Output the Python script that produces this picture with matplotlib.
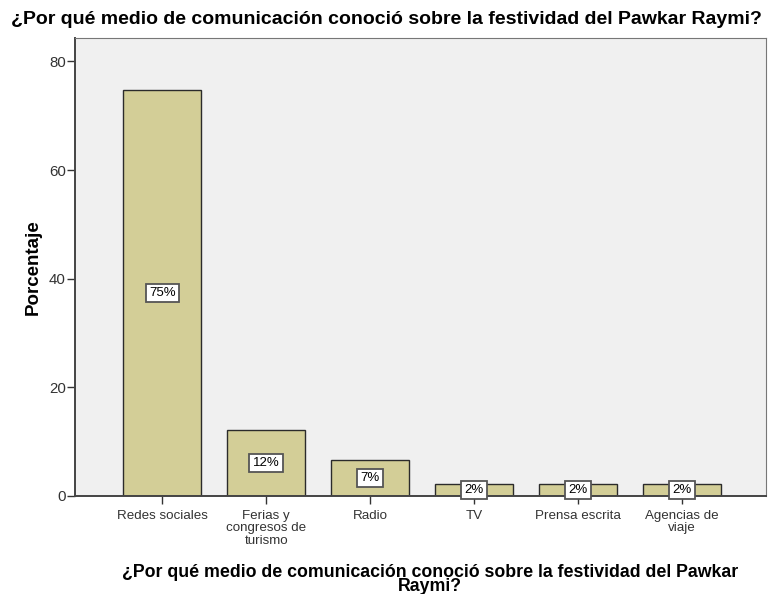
import matplotlib
matplotlib.use("Agg")
import matplotlib.pyplot as plt

plt.rcParams['font.family'] = ['Liberation Sans', 'DejaVu Sans']

categories = ["Redes sociales", "Ferias y\ncongresos de\nturismo", "Radio", "TV",
              "Prensa escrita", "Agencias de\nviaje"]
percent = [74.7, 12.1, 6.6, 2.2, 2.2, 2.2]
labels = ["75%", "12%", "7%", "2%", "2%", "2%"]
yticks = [0, 20, 40, 60, 80]

title = "¿Por qué medio de comunicación conoció sobre la festividad del Pawkar Raymi?"
xlabel = "¿Por qué medio de comunicación conoció sobre la festividad del Pawkar\nRaymi?"

fig = plt.figure(figsize=(7.69, 5.94), dpi=100)
ax = fig.add_axes([0.0975, 0.165, 0.8985, 0.771])
ax.set_facecolor("#F0F0F0")

x = range(len(categories))
ax.bar(x, percent, width=0.75, color="#D3CE97", edgecolor="#2b2b2b", linewidth=1.0, zorder=2)

for i, (v, lab) in enumerate(zip(percent, labels)):
    ax.text(i, v / 2, lab, ha="center", va="center", fontsize=9.5, zorder=3,
            bbox=dict(boxstyle="square,pad=0.25", fc="white", ec="#555555", lw=1.3))

ax.set_xlim(-0.84, 5.81)
ax.set_ylim(0, 84.3)
ax.set_xticks(list(x))
ax.set_xticklabels(categories, fontsize=9.6, linespacing=1.05)
ax.set_yticks(yticks)
ax.set_yticklabels([str(t) for t in yticks], fontsize=10.8)
ax.tick_params(axis="both", colors="#333333", length=6, width=1.0)
ax.tick_params(axis="x", pad=4)
ax.tick_params(axis="y", pad=0.5)

for side in ["top", "right"]:
    ax.spines[side].set_color("#777777")
    ax.spines[side].set_linewidth(0.8)
for side in ["left", "bottom"]:
    ax.spines[side].set_color("#444444")
    ax.spines[side].set_linewidth(1.4)

ax.set_ylabel("Porcentaje", fontsize=13.5, fontweight="bold", labelpad=5)
ax.set_xlabel(xlabel, fontsize=12.8, fontweight="bold", linespacing=0.8)
ax.xaxis.set_label_coords(0.514, -0.148)
fig.text(0.502, 0.968, title, ha="center", va="center", fontsize=14, fontweight="bold")

fig.savefig("out.png", dpi=100)
